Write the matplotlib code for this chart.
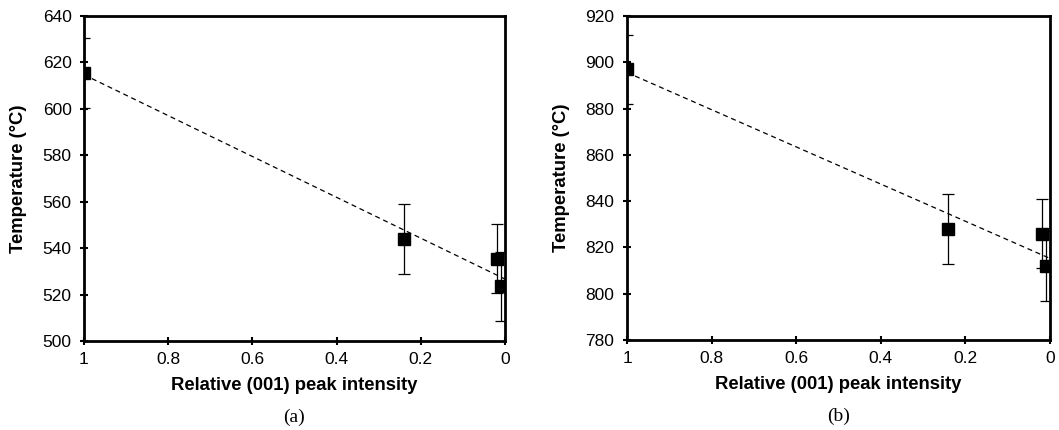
import matplotlib
matplotlib.use("Agg")
import matplotlib.pyplot as plt
import numpy as np

# relative (001) peak intensity and temperatures
intensity = [1.0, 0.24, 0.02, 0.01]
temp_a = [615.5, 544.0, 535.5, 523.5]
temp_b = [897.0, 828.0, 826.0, 812.0]
err_a = [15, 15, 15, 15]
err_b = [15, 15, 15, 15]
xticks = [1, 0.8, 0.6, 0.4, 0.2, 0]
xtick_labels = ["1", "0.8", "0.6", "0.4", "0.2", "0"]
yticks_a = [500, 520, 540, 560, 580, 600, 620, 640]
yticks_b = [780, 800, 820, 840, 860, 880, 900, 920]
panels = ["(a)", "(b)"]

plt.rcParams["font.family"] = ["Liberation Sans", "DejaVu Sans"]

fig = plt.figure(figsize=(10.59, 4.30), dpi=100)
ax_a = fig.add_axes([84 / 1059, 1 - 341 / 430, (505 - 84) / 1059, (341 - 16) / 430])
ax_b = fig.add_axes([627 / 1059, 1 - 340 / 430, (1050 - 627) / 1059, (340 - 16) / 430])


def draw(ax, y, err, yticks, label):
    x = np.array(intensity)
    slope, icpt = np.polyfit(x, np.array(y), 1)
    xs = np.array([1.0, 0.0])
    ax.plot(xs, slope * xs + icpt, color="black", lw=0.9, ls=(0, (4, 3)), zorder=2)
    ax.errorbar(intensity, y, yerr=err, fmt="s", color="black", ms=8,
                ecolor="black", elinewidth=0.9, capsize=4, capthick=0.9, zorder=3)
    ax.set_xlim(1, 0)
    ax.set_ylim(yticks[0], yticks[-1])
    ax.set_xticks(xticks)
    ax.set_xticklabels(xtick_labels)
    ax.set_yticks(yticks)
    ax.tick_params(direction="inout", length=6, width=1.5, labelsize=12.5,
                   top=False, right=False)
    ax.tick_params(axis="x", pad=5)
    ax.tick_params(axis="y", pad=6)
    for s in ax.spines.values():
        s.set_linewidth(2)
    ax.set_xlabel("Relative (001) peak intensity", fontsize=13.3, fontweight="bold", labelpad=7)
    ax.set_ylabel("Temperature (°C)", fontsize=13.3, fontweight="bold", labelpad=11)
    ax.text(0.5, -0.235, label, transform=ax.transAxes, ha="center", va="center",
            fontsize=14, family=["Liberation Serif", "DejaVu Serif"])


draw(ax_a, temp_a, err_a, yticks_a, panels[0])
draw(ax_b, temp_b, err_b, yticks_b, panels[1])

fig.savefig("out.png", dpi=100)
